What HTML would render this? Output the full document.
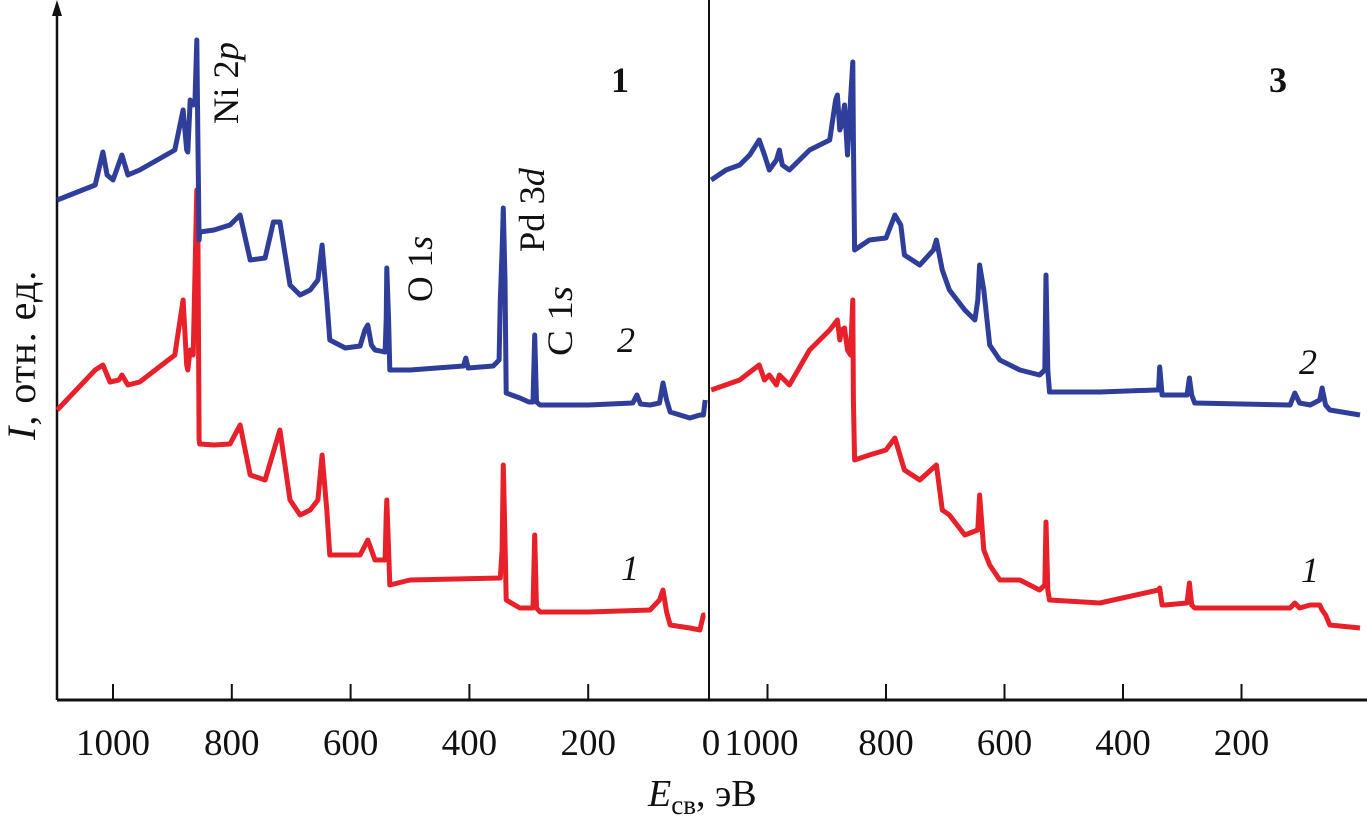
<!DOCTYPE html>
<html><head><meta charset="utf-8"><style>
html,body{margin:0;padding:0;background:#fff;}
svg{display:block;}
text{font-family:"Liberation Serif",serif;fill:#111;}
</style></head><body>
<svg id="chart" width="1367" height="825" viewBox="0 0 1367 825" xmlns="http://www.w3.org/2000/svg">
<g id="axes"></g>
<g id="series"></g>
<g id="labels">
<text transform="translate(238,124) rotate(-90)" font-size="36" textLength="82" lengthAdjust="spacingAndGlyphs">Ni 2<tspan font-style="italic">p</tspan></text>
<text transform="translate(432,302) rotate(-90)" font-size="36" textLength="66" lengthAdjust="spacingAndGlyphs">O 1<tspan font-style="italic">s</tspan></text>
<text transform="translate(544,252) rotate(-90)" font-size="36" textLength="84" lengthAdjust="spacingAndGlyphs">Pd 3<tspan font-style="italic">d</tspan></text>
<text transform="translate(572,356) rotate(-90)" font-size="36" textLength="70" lengthAdjust="spacingAndGlyphs">C 1<tspan font-style="italic">s</tspan></text>
<text x="611" y="92" font-size="36" font-weight="bold">1</text>
<text x="1269" y="92" font-size="36" font-weight="bold">3</text>
<text x="617" y="352" font-size="36" font-style="italic">2</text>
<text x="621" y="580" font-size="36" font-style="italic">1</text>
<text x="1299" y="374" font-size="36" font-style="italic">2</text>
<text x="1301" y="582" font-size="36" font-style="italic">1</text>
<text transform="translate(35,440) rotate(-90)" font-size="40" letter-spacing="1"><tspan font-style="italic">I</tspan>, отн. ед.</text>
<text x="648" y="806" font-size="38"><tspan font-style="italic">E</tspan><tspan font-size="27" dy="8">св</tspan><tspan dy="-8">, эВ</tspan></text>
</g>
</svg>
<script>
// Energy (eV) and intensity (arbitrary, 0 at x-axis) data
const leftBlueE = [1094,1030,1017,1010,1000,985,975,955,896,882,876,874,870,865,862,859,857,855,854,830,803,786,769,744,730,719,702,685,668,655,648,640,635,609,584,576,571,565,559,542,540,539,536,534,500,410,406,402,360,350,348,345,343,340,338,315,300,293,290,287,281,200,125,118,112,96,80,74,68,62,29,12,6,3];
const leftBlueI = [500,515,548,525,520,545,525,530,550,590,550,548,600,595,600,660,560,460,468,470,475,485,440,442,478,478,415,405,410,420,455,400,360,352,354,370,375,355,350,348,380,432,380,330,330,334,342,332,334,340,400,450,492,420,307,302,298,298,365,298,295,295,297,305,296,295,297,317,300,288,282,285,285,300];
const leftRedE = [1094,1030,1017,1005,990,985,975,955,896,882,876,874,870,865,859,857,855,854,830,803,786,769,744,719,702,685,668,655,648,640,635,609,584,571,559,542,540,539,536,534,500,348,345,343,340,338,315,293,290,287,281,200,96,80,74,68,62,29,12,6,3];
const leftRedI = [290,330,335,318,320,325,315,318,345,400,335,330,350,345,510,470,260,256,255,256,275,225,220,270,200,185,190,200,245,190,145,145,145,160,140,140,185,200,150,115,120,122,150,235,160,100,92,92,165,92,88,88,90,100,110,88,75,72,70,85,85];
const rightBlueE = [1095,1070,1047,1030,1014,1005,997,985,980,975,963,929,895,885,882,878,875,870,865,860,856,855,853,828,800,785,775,769,743,720,715,705,693,667,650,645,642,635,625,608,574,541,532,530,527,524,439,345,340,338,334,329,292,288,284,279,118,110,102,84,68,64,58,51,0];
const rightBlueI = [520,530,535,545,560,545,530,540,550,535,530,550,560,600,605,570,575,595,545,600,638,560,450,460,462,485,475,445,435,450,460,430,410,390,380,400,435,410,355,340,330,325,330,425,330,308,308,310,310,333,305,305,305,322,305,297,295,307,297,295,300,312,295,290,285];
const rightRedE = [1095,1047,1014,1005,997,985,980,963,929,895,882,878,875,870,865,860,856,855,853,828,800,785,769,743,715,705,693,667,645,642,635,625,608,574,541,532,530,527,524,439,340,338,334,329,292,288,284,279,118,110,102,84,68,64,58,51,0];
const rightRedI = [310,320,335,320,325,315,325,315,350,370,380,360,370,372,350,345,400,300,240,245,250,262,230,220,235,190,185,165,170,205,150,135,120,120,110,115,178,110,100,97,110,112,95,95,97,117,95,92,92,97,92,95,95,90,85,75,72];

const NS = 'http://www.w3.org/2000/svg';
const axisY = 700;
function xLeft(e){ return 707 - e*0.594; }
function xRight(e){ return 1360 - e*0.5925; }
function yScale(v){ return axisY - v; }

const tickLeft = [1000,800,600,400,200,0];
const tickRight = [1000,800,600,400,200];

const axes = document.getElementById('axes');
function mk(tag, attrs, parent){ const el=document.createElementNS(NS,tag); for(const k in attrs) el.setAttribute(k,attrs[k]); parent.appendChild(el); return el; }

let el = mk('line',{x1:57,y1:axisY,x2:1367,y2:axisY,stroke:'#111','stroke-width':3},axes);


el = mk('line',{x1:57,y1:axisY,x2:57,y2:6,stroke:'#111','stroke-width':2.5},axes);


el = mk('polygon',{points:'57,0 52,16 62,16',fill:'#111'},axes);


el = mk('line',{x1:709,y1:0,x2:709,y2:axisY,stroke:'#111','stroke-width':2},axes);



tickLeft.forEach(function(t){
  const x = xLeft(t);
  if(t!==0){
    const tk = mk('line',{x1:x,y1:axisY,x2:x,y2:axisY-16,stroke:'#111','stroke-width':2},axes);
    
    
  }
  const lb = mk('text',{x:(t===0?x+4:x),y:axisY+55,'font-size':37,'text-anchor':'middle'},axes);
  lb.textContent = t;
  
  
});
tickRight.forEach(function(t){
  const x = xRight(t);
  const tk = mk('line',{x1:x,y1:axisY,x2:x,y2:axisY-16,stroke:'#111','stroke-width':2},axes);
  
  
  const lb = mk('text',{x:(t===1000?x-6:x),y:axisY+55,'font-size':37,'text-anchor':'middle'},axes);
  lb.textContent = t;
  
  
});

const series = document.getElementById('series');
function drawLine(E, I, xf, color, name){
  const pts = E.map(function(e,i){ return xf(e).toFixed(1)+','+yScale(I[i]).toFixed(1); }).join(' ');
  const p = mk('polyline',{points:pts,fill:'none',stroke:color,'stroke-width':5,'stroke-linejoin':'round'},series);
  
  
}
drawLine(leftRedE, leftRedI, xLeft, '#e8202a', 'curve-1-panel-1');
drawLine(leftBlueE, leftBlueI, xLeft, '#2e3e9a', 'curve-2-panel-1');
drawLine(rightRedE, rightRedI, xRight, '#e8202a', 'curve-1-panel-3');
drawLine(rightBlueE, rightBlueI, xRight, '#2e3e9a', 'curve-2-panel-3');
</script>
</body></html>
